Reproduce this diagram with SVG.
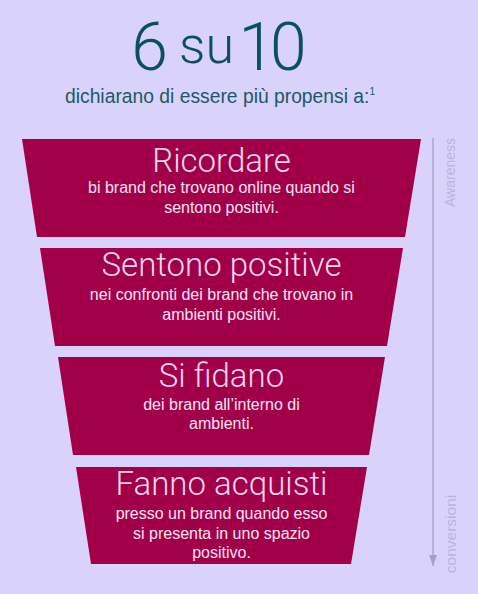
<svg xmlns="http://www.w3.org/2000/svg" width="478" height="594" viewBox="0 0 478 594">
<defs>
<style>
.band{fill:#a10049}
.title{font-family:Roboto,"Liberation Sans",sans-serif;font-weight:300;font-size:33px;fill:#f4d6f0;text-anchor:middle}
.sub{font-family:"Liberation Sans",Arial,sans-serif;font-size:16px;fill:#f6e2f4;text-anchor:middle}
.big{font-family:Roboto,"Liberation Sans",sans-serif;font-weight:300;fill:#0c4f5d;text-anchor:middle}
.axis-label{font-family:"Liberation Sans",Arial,sans-serif;fill:#b9b3dd;text-anchor:middle}
</style>
<marker id="arrow" markerWidth="11" markerHeight="8" refX="11" refY="4" orient="auto" markerUnits="userSpaceOnUse" viewBox="0 0 11 8">
<path d="M0,0 L11,4 L0,8 Z" fill="#a6a0c9"/>
</marker>
</defs>
<rect width="478" height="594" fill="#d9d3fb"/>

<g id="heading">
<text class="big" x="149.5" y="70" font-size="66">6</text>
<text class="big" x="206.5" y="63" font-size="52">su</text>
<text class="big" x="238.5" y="70" font-size="66" letter-spacing="-5" style="text-anchor:start">10</text>
<text x="65" y="103" font-family="Liberation Sans, Arial, sans-serif" font-size="19.3" fill="#1d5868">dichiarano di essere più propensi a:<tspan font-size="10" dy="-8">1</tspan></text>
</g>

<g id="connectors">
<line x1="433" y1="138" x2="433" y2="566" stroke="#a6a0c9" stroke-width="1.3" marker-end="url(#arrow)"/>
</g>

<g id="axis-labels">
<text class="axis-label" font-size="14" transform="translate(455,172.5) rotate(-90)">Awareness</text>
<text class="axis-label" font-size="15.5" transform="translate(456,534) rotate(-90)">conversioni</text>
</g>

<g id="band-1">
<polygon class="band" points="22,139 421,139 405,237 37,237"/>
<text class="title" x="221.5" y="172">Ricordare</text>
<text class="sub" x="221.5" y="193">bi brand che trovano online quando si</text>
<text class="sub" x="221.5" y="213">sentono positivi.</text>
</g>

<g id="band-2">
<polygon class="band" points="40,248 403,248 387,346 55,346"/>
<text class="title" x="221.5" y="276">Sentono positive</text>
<text class="sub" x="221.5" y="300">nei confronti dei brand che trovano in</text>
<text class="sub" x="221.5" y="320">ambienti positivi.</text>
</g>

<g id="band-3">
<polygon class="band" points="58,357 385,357 369,455 73,455"/>
<text class="title" x="221.5" y="387">Si fidano</text>
<text class="sub" x="221.5" y="410">dei brand all’interno di</text>
<text class="sub" x="221.5" y="429">ambienti.</text>
</g>

<g id="band-4">
<polygon class="band" points="76,467 367,467 351,564 91,564"/>
<text class="title" x="221.5" y="495">Fanno acquisti</text>
<text class="sub" x="221.5" y="519">presso un brand quando esso</text>
<text class="sub" x="221.5" y="539">si presenta in uno spazio</text>
<text class="sub" x="221.5" y="558">positivo.</text>
</g>
</svg>
